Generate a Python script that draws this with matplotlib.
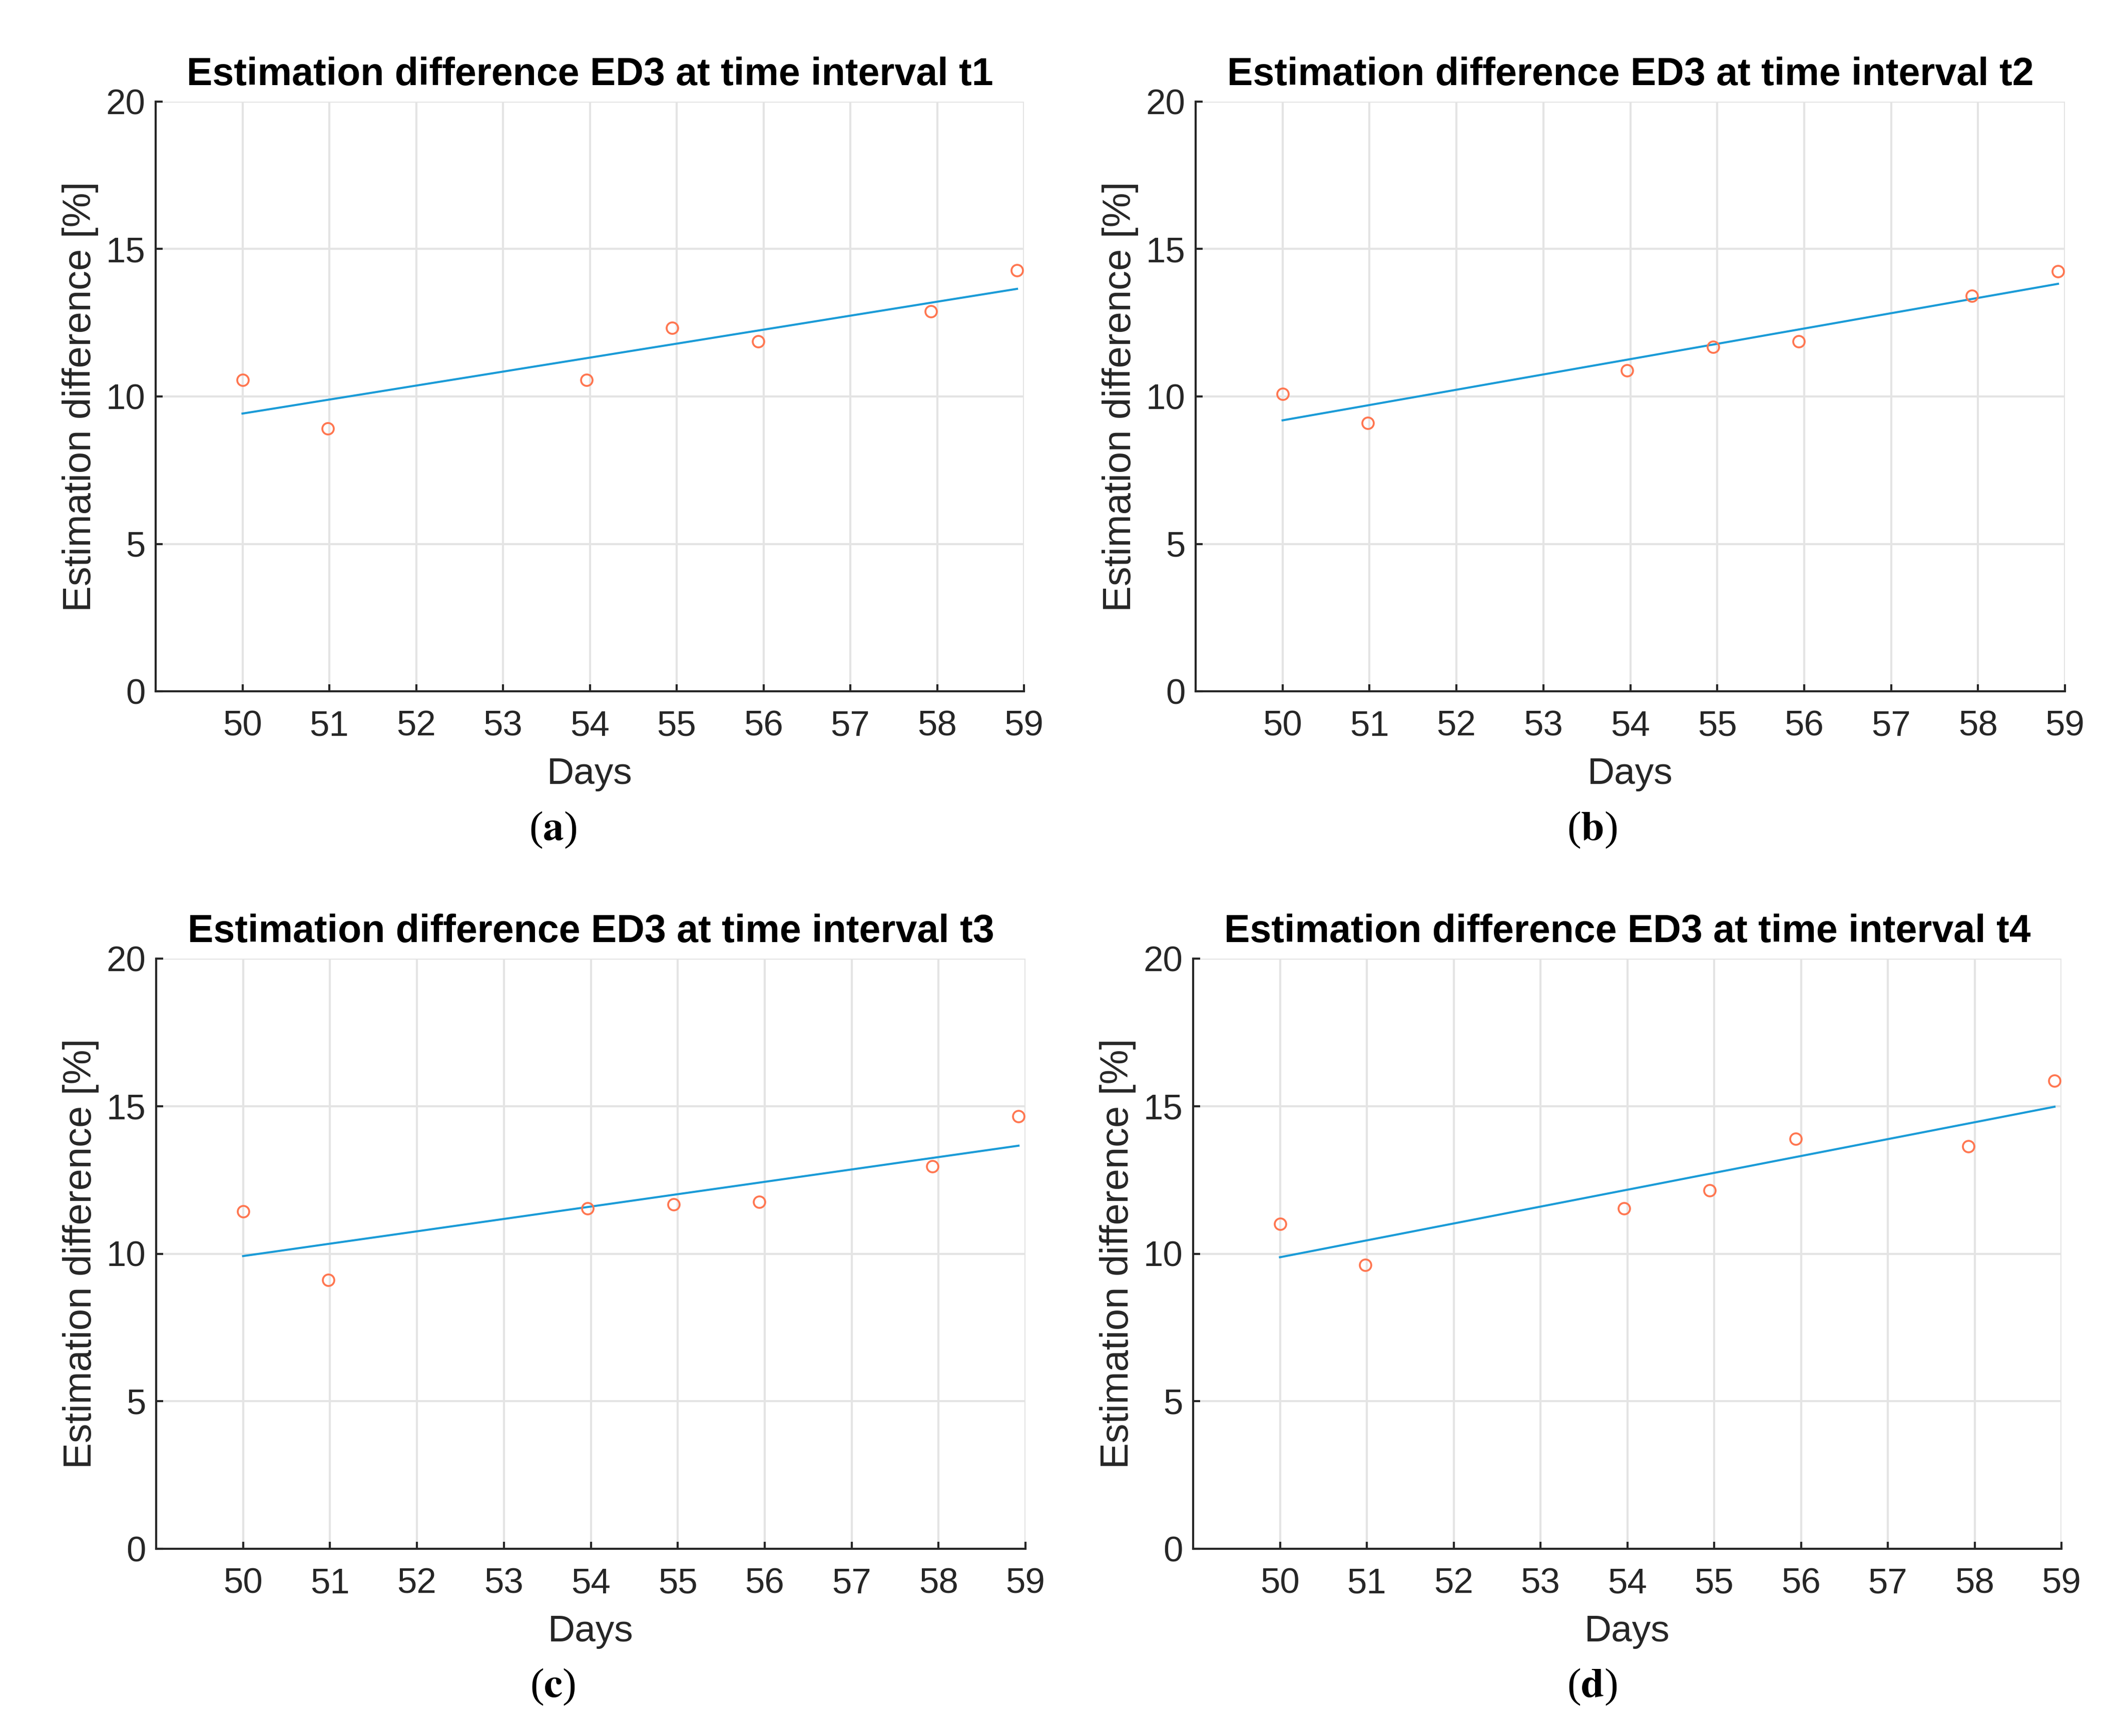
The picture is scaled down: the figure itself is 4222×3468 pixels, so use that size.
import matplotlib
matplotlib.use("Agg")
import matplotlib.pyplot as plt

plt.rcParams['font.family'] = ['Liberation Sans', 'DejaVu Sans']
plt.rcParams['mathtext.fontset'] = 'stix'

# measurement days (same for every interval)
days = [50.0, 50.98, 53.96, 54.95, 55.94, 57.93, 58.92]

# estimation difference ED3 [%] per time interval
ed_t1 = [10.56, 8.91, 10.56, 12.32, 11.86, 12.88, 14.27]
ed_t2 = [10.08, 9.10, 10.89, 11.68, 11.86, 13.41, 14.24]
ed_t3 = [11.44, 9.11, 11.53, 11.67, 11.76, 12.96, 14.66]
ed_t4 = [11.01, 9.61, 11.53, 12.15, 13.90, 13.64, 15.86]

# linear fit values at first and last day
fit_t1 = [9.42, 13.65]
fit_t2 = [9.19, 13.82]
fit_t3 = [9.92, 13.66]
fit_t4 = [9.88, 14.98]

intervals = ['t1', 't2', 't3', 't4']
letters = ['a', 'b', 'c', 'd']
series = [ed_t1, ed_t2, ed_t3, ed_t4]
fits = [fit_t1, fit_t2, fit_t3, fit_t4]

W, H = 4222, 3468
fig = plt.figure(figsize=(W / 300, H / 300), dpi=300)

# axes boxes in pixels: left, top, right, bottom
boxes = [(311, 203, 2046, 1381), (2389, 203, 4126, 1381),
         (312, 1915, 2049, 3094), (2384, 1915, 4119, 3094)]
label_pos = [(1105, 1658), (3181, 1658), (1104, 3370), (3181, 3370)]

for i in range(4):
    l, t, r, b = boxes[i]
    ax = fig.add_axes([l / W, 1 - b / H, (r - l) / W, (b - t) / H])
    ax.plot([days[0], days[-1]], fits[i], color='#1a9bd7', lw=1.0, zorder=3)
    ax.plot(days, series[i], linestyle='none', marker='o', ms=5.5,
            mfc='none', mec='#ff7650', mew=0.9, zorder=4)
    ax.set_xlim(49, 59)
    ax.set_ylim(0, 20)
    ax.set_xticks(range(50, 60))
    ax.set_yticks([0, 5, 10, 15, 20])
    ax.grid(True, color='#e4e4e4', lw=1.0)
    ax.set_axisbelow(True)
    for s in ['top', 'right']:
        ax.spines[s].set_visible(False)
    for s in ['left', 'bottom']:
        ax.spines[s].set_color('#262626')
        ax.spines[s].set_linewidth(1.0)
    ax.tick_params(direction='in', length=3.4, width=1.0, color='#262626',
                   labelsize=17, labelcolor='#262626')
    ax.tick_params(axis='x', pad=9)
    ax.tick_params(axis='y', pad=5)
    ax.set_xlabel('Days', fontsize=18, color='#262626', labelpad=6.5)
    ax.set_ylabel('Estimation difference [%]', fontsize=18.7, color='#262626', labelpad=3.5)
    ax.set_title('Estimation difference ED3 at time interval ' + intervals[i],
                 fontsize=18.5, fontweight='bold', pad=8)
    lx, ly = label_pos[i]
    fig.text(lx / W, 1 - ly / H, '($\\mathbf{' + letters[i] + '}$)',
             fontsize=20, family='Liberation Serif', ha='center', va='center')

fig.savefig('out.png', dpi=300)
